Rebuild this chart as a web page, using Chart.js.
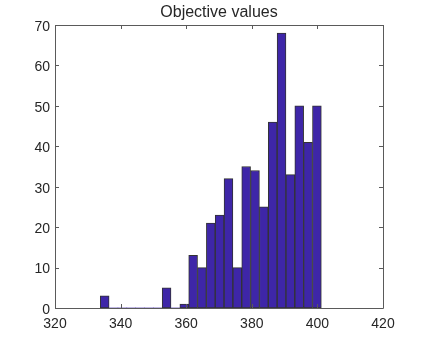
<!DOCTYPE html>
<html>
<head>
<meta charset="utf-8">
<script src="https://cdn.jsdelivr.net/npm/chart.js@4"></script>
<style>
  body { margin: 0; background: #fff; }
  #wrap { width: 424px; height: 347px; }
</style>
</head>
<body>
<div id="wrap"><canvas id="histChart" width="424" height="347"></canvas></div>
<script>
// histogram bins (centres) and counts
const binCenters = [335.15, 337.84, 340.54, 343.23, 345.93, 348.63, 351.32, 354.02, 356.71,
    359.41, 362.11, 364.80, 367.50, 370.19, 372.89, 375.59, 378.28, 380.98, 383.67,
    386.37, 389.07, 391.76, 394.46, 397.15, 399.85];
const counts = [3, 0, 0, 0, 0, 0, 0, 5, 0, 1, 13, 10, 21, 23, 32, 10, 35, 34, 25, 46, 68, 33, 50, 41, 50];
const xTicks = [320, 340, 360, 380, 400, 420];
const yTicks = [0, 10, 20, 30, 40, 50, 60, 70];
const chartTitle = 'Objective values';

const axisColor = '#5a5a5a';
const textColor = '#262626';
const fontFamily = '"Liberation Sans", Arial, sans-serif';

// MATLAB style box with inward ticks on all four sides, title centred over the axes
const boxPlugin = {
    id: 'boxAxes',
    afterDraw(chart) {
        const { ctx, chartArea: a, scales } = chart;
        const len = 4;
        ctx.save();
        ctx.strokeStyle = axisColor;
        ctx.lineWidth = 1;
        ctx.beginPath();
        ctx.rect(Math.round(a.left) + 0.5, Math.round(a.top) + 0.5,
            Math.round(a.right - a.left), Math.round(a.bottom - a.top));
        xTicks.forEach(v => {
            const px = Math.round(scales.x.getPixelForValue(v)) + 0.5;
            ctx.moveTo(px, a.bottom); ctx.lineTo(px, a.bottom - len);
            ctx.moveTo(px, a.top); ctx.lineTo(px, a.top + len);
        });
        yTicks.forEach(v => {
            const py = Math.round(scales.y.getPixelForValue(v)) + 0.5;
            ctx.moveTo(a.left, py); ctx.lineTo(a.left + len, py);
            ctx.moveTo(a.right, py); ctx.lineTo(a.right - len, py);
        });
        ctx.stroke();

        ctx.fillStyle = textColor;
        ctx.font = '16px ' + fontFamily;
        ctx.textAlign = 'center';
        ctx.textBaseline = 'middle';
        ctx.fillText(chartTitle, (a.left + a.right) / 2, 13);
        ctx.restore();
    }
};

const ctx = document.getElementById('histChart').getContext('2d');
new Chart(ctx, {
    type: 'bar',
    data: {
        datasets: [{
            data: binCenters.map((c, i) => ({ x: c, y: counts[i] })),
            backgroundColor: 'rgb(62,38,168)',
            borderColor: '#333333',
            borderWidth: (c) => (c.raw && c.raw.y > 0 ? 1 : 0),
            borderSkipped: false,
            barPercentage: 1,
            categoryPercentage: 1
        }]
    },
    options: {
        responsive: false,
        animation: false,
        devicePixelRatio: 1,
        layout: { padding: { left: 0, right: 41, top: 25, bottom: 0 } },
        plugins: {
            legend: { display: false },
            tooltip: { enabled: false },
            title: { display: false }
        },
        scales: {
            x: {
                type: 'linear',
                offset: false,
                min: 320,
                max: 420,
                grid: { display: false, drawTicks: false },
                border: { display: false },
                afterBuildTicks: (s) => { s.ticks = xTicks.map(v => ({ value: v })); },
                afterFit: (s) => { s.height = 39; },
                ticks: {
                    color: textColor,
                    padding: 8,
                    maxRotation: 0,
                    font: { family: fontFamily, size: 14 }
                }
            },
            y: {
                min: 0,
                max: 70,
                grid: { display: false, drawTicks: false },
                border: { display: false },
                afterBuildTicks: (s) => { s.ticks = yTicks.map(v => ({ value: v })); },
                afterFit: (s) => { s.width = 55; },
                ticks: {
                    color: textColor,
                    padding: 5,
                    labelOffset: 2,
                    font: { family: fontFamily, size: 14 }
                }
            }
        }
    },
    plugins: [boxPlugin]
});
</script>
</body>
</html>
